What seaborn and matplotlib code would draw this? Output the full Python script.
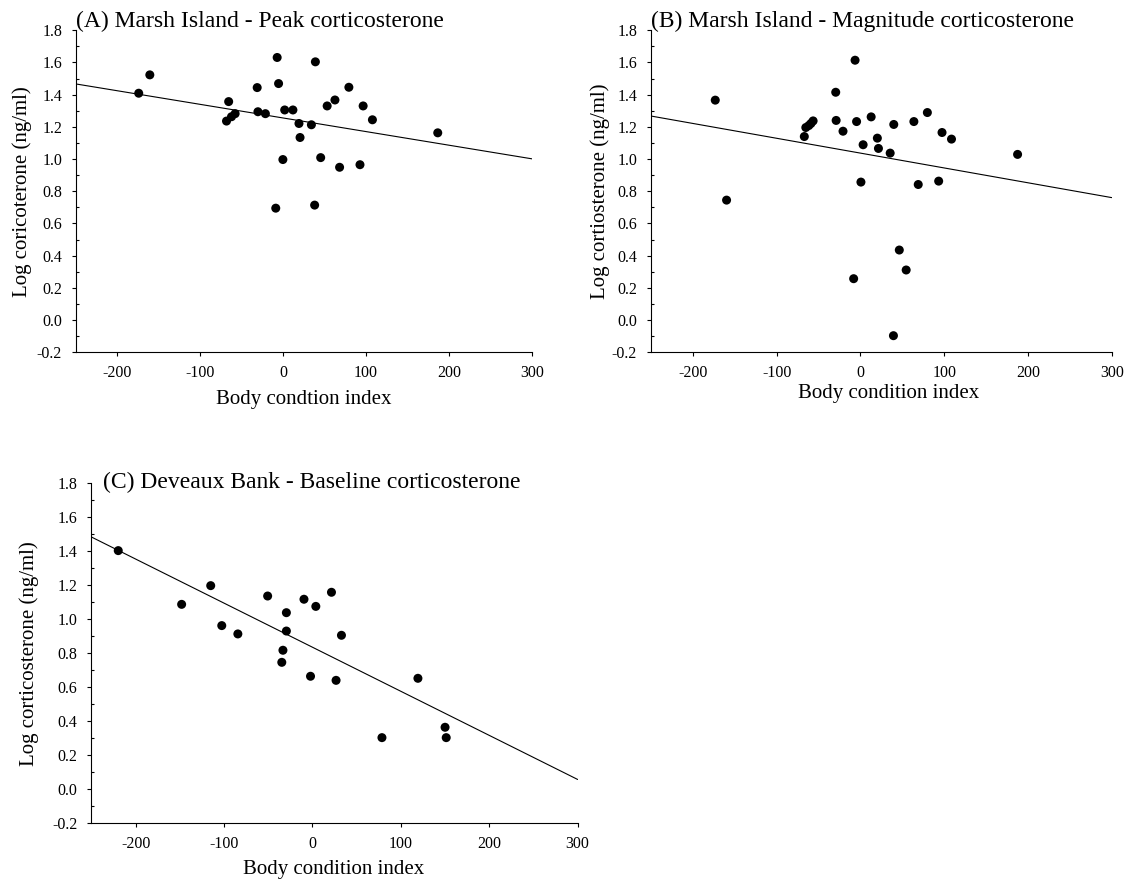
import numpy as np
import pandas as pd
import seaborn as sns
import matplotlib
matplotlib.use("Agg")
import matplotlib.pyplot as plt
from matplotlib.ticker import MultipleLocator, FormatStrFormatter

# (A) Marsh Island - peak corticosterone
a_bci = [-174.3, -160.9, -65.8, -68.4, -62.4, -58.0, -31.4, -30.5, -21.5, -7.3,
         -5.6, -9.0, -0.4, 1.8, 11.7, 19.0, 20.3, 34.0, 38.8, 37.9,
         45.2, 53.0, 62.4, 68.0, 79.2, 92.6, 96.4, 107.6, 186.4]
a_cort = [1.409, 1.523, 1.357, 1.236, 1.263, 1.282, 1.444, 1.294, 1.282, 1.631,
          1.469, 0.695, 0.997, 1.305, 1.305, 1.221, 1.134, 1.213, 1.604, 0.714,
          1.009, 1.330, 1.367, 0.949, 1.446, 0.965, 1.330, 1.244, 1.163]

# (B) Marsh Island - magnitude corticosterone
b_bci = [-173.3, -159.8, -67.0, -65.2, -61.7, -59.1, -56.5, -29.5, -29.0, -20.8,
         -6.4, -4.6, -8.1, 0.6, 3.2, 12.8, 20.2, 21.5, 35.5, 39.8,
         39.4, 46.4, 54.6, 63.8, 69.0, 79.9, 93.4, 97.4, 108.7, 187.6]
b_cort = [1.366, 0.745, 1.140, 1.196, 1.208, 1.221, 1.237, 1.415, 1.240, 1.173,
          1.614, 1.233, 0.257, 0.857, 1.089, 1.262, 1.130, 1.066, 1.037, 1.215,
          -0.097, 0.435, 0.311, 1.233, 0.842, 1.289, 0.863, 1.165, 1.124, 1.029]

# (C) Deveaux Bank - baseline corticosterone
c_bci = [-219.7, -148.0, -115.1, -102.6, -84.4, -50.7, -29.5, -29.5, -33.4, -34.7,
         -9.6, -2.2, 3.8, 21.5, 26.7, 32.8, 78.6, 119.3, 150.0, 151.3]
c_cort = [1.404, 1.088, 1.198, 0.963, 0.914, 1.137, 1.039, 0.931, 0.818, 0.747,
          1.118, 0.665, 1.076, 1.159, 0.641, 0.906, 0.304, 0.653, 0.365, 0.304]

titles = ["(A) Marsh Island - Peak corticosterone",
          "(B) Marsh Island - Magnitude corticosterone",
          "(C) Deveaux Bank - Baseline corticosterone"]
ylabels = ["Log coricoterone (ng/ml)", "Log cortiosterone (ng/ml)",
           "Log corticosterone (ng/ml)"]
xlabels = ["Body condtion index", "Body condition index", "Body condition index"]

sns.set_theme(style="ticks")
plt.rcParams['font.family'] = ['Liberation Serif', 'DejaVu Serif']
plt.rcParams['axes.unicode_minus'] = False
for key in ("text.color", "axes.labelcolor", "xtick.color", "ytick.color"):
    plt.rcParams[key] = "black"

fig = plt.figure(figsize=(11.32, 8.80), dpi=100)
boxes = [[0.0671, 0.5997, 0.4028, 0.3659],
         [0.5751, 0.5997, 0.4070, 0.3659],
         [0.0808, 0.0644, 0.4295, 0.3864]]
# title x/y, ylabel x, xlabel x/y (axes fraction)
title_pos = [(0.0, 1.011), (0.0, 1.011), (0.024, 0.985)]
ylab_x = [-0.119, -0.111, -0.128]
xlab_pos = [(0.499, -0.160), (0.515, -0.143), (0.499, -0.150)]

panels = [(a_bci, a_cort), (b_bci, b_cort), (c_bci, c_cort)]

for i, (xs, ys) in enumerate(panels):
    ax = fig.add_axes(boxes[i])
    df = pd.DataFrame({"bci": xs, "cort": ys})
    ax.set_xlim(-250, 300)
    ax.set_ylim(-0.2, 1.8)
    sns.regplot(data=df, x="bci", y="cort", ax=ax, ci=None, truncate=False,
                scatter_kws={"s": 42, "color": "black", "edgecolor": "none", "alpha": 1},
                line_kws={"color": "black", "linewidth": 0.8})
    ax.set_xlim(-250, 300)
    ax.set_ylim(-0.2, 1.8)
    sns.despine(ax=ax)
    for sp in ("left", "bottom"):
        ax.spines[sp].set_color("black")
        ax.spines[sp].set_linewidth(0.8)

    ax.set_xticks(np.arange(-200, 301, 100))
    ax.set_yticks(np.arange(-0.2, 1.81, 0.2))
    ax.yaxis.set_minor_locator(MultipleLocator(0.1))
    ax.yaxis.set_major_formatter(FormatStrFormatter("%.1f"))
    ax.tick_params(axis="y", which="major", direction="out", length=3, width=0.8,
                   pad=7, labelsize=11.5, color="black")
    ax.tick_params(axis="y", which="minor", direction="in", length=2.5, width=0.8,
                   color="black")
    ax.tick_params(axis="x", which="major", direction="out", length=3, width=0.8,
                   pad=6, labelsize=11.5, color="black")

    ax.set_ylabel(ylabels[i], fontsize=15, va="center")
    ax.yaxis.set_label_coords(ylab_x[i], 0.5)
    ax.set_xlabel(xlabels[i], fontsize=15, va="baseline")
    ax.xaxis.set_label_coords(*xlab_pos[i])
    ax.text(title_pos[i][0], title_pos[i][1], titles[i], transform=ax.transAxes,
            fontsize=17, ha="left", va="baseline")

fig.savefig("out.png", dpi=100)
